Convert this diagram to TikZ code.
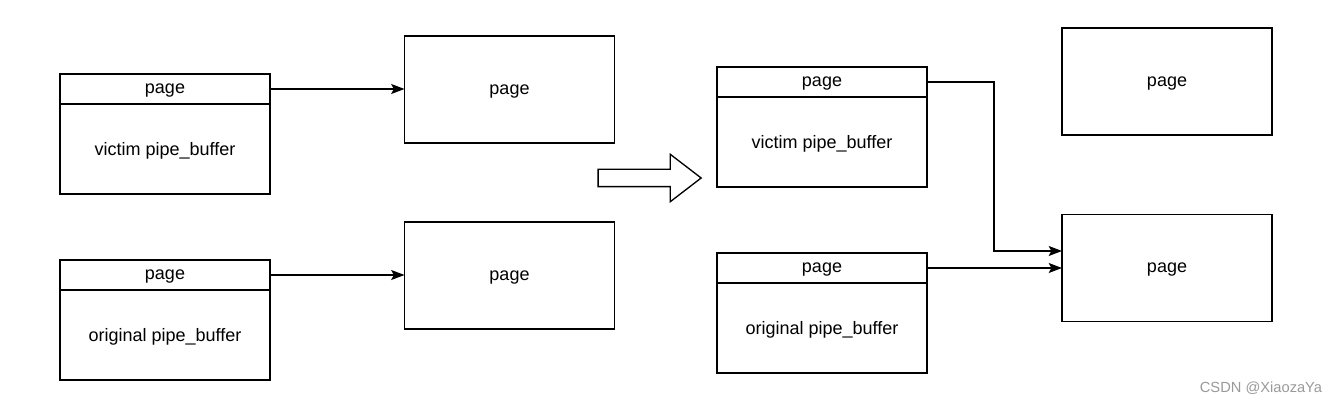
\documentclass[tikz,border=0pt]{standalone}
\usepackage{fontspec}
\setmainfont{Liberation Sans}
\usetikzlibrary{arrows.meta,positioning,shapes.arrows}
\tikzset{
headbox/.style={
  rectangle,
  line width=1pt,
  inner sep=0pt,
  outer sep=0pt,
  minimum width=157.5pt,
  minimum height=22.5pt,
  text depth=0pt,
  draw=black,
  font=\fontsize{13.5}{16}\selectfont,
  }
}
\tikzset{
bufbox/.style={
  headbox,
  minimum height=67.5pt,
  }
}
\tikzset{
pagebox/.style={
  headbox,
  minimum height=80.25pt,
  }
}
\tikzset{
myline/.style={
  line width=1pt,
  -{Stealth[length=10pt,width=7.5pt,inset=2pt]}
  }
}

\begin{document}
\begin{tikzpicture}[x=0.75pt,y=-0.75pt]
    \useasboundingbox (0,0) rectangle (1327,402);

    % before: victim buffer
    \node[headbox] (vic_head) at (165,89) {page};
    \node[bufbox, below=0pt of vic_head] (vic_buf) {victim pipe\_buffer};
    \node[pagebox] (vic_page) at (509.5,89.5) {page};

    % before: original buffer
    \node[headbox] (orig_head) at (165,275) {page};
    \node[bufbox, below=0pt of orig_head] (orig_buf) {original pipe\_buffer};
    \node[pagebox] (orig_page) at (509.5,275.5) {page};

    % hollow arrow
    \node[single arrow, draw=black, line width=1pt, inner xsep=0pt, inner ysep=6pt,
          minimum height=77.25pt, single arrow head extend=11.25pt,
          single arrow tip angle=75] (step_arrow) at (644,178) {};

    % after: victim buffer
    \node[headbox] (vic_head2) at (822,82) {page};
    \node[bufbox, below=0pt of vic_head2] (vic_buf2) {victim pipe\_buffer};
    \node[pagebox] (free_page) at (1167,81.5) {page};

    % after: original buffer
    \node[headbox] (orig_head2) at (822,268) {page};
    \node[bufbox, below=0pt of orig_head2] (orig_buf2) {original pipe\_buffer};
    \node[pagebox] (orig_page2) at (1167,268) {page};
    \coordinate (jog) at (994,251);
    \coordinate (in_page) at (1062,251);

    % edges
    \draw[myline] (vic_head) -- (vic_page.west |- vic_head);
    \draw[myline] (orig_head) -- (orig_page.west |- orig_head);
    \draw[myline] (vic_head2.east) -| (jog) -- (in_page);
    \draw[myline] (orig_head2.east) -- (orig_page2.west);

    % watermark
    \node[text=black!40, font=\fontsize{11}{13}\selectfont] (mark) at (1261,388) {CSDN @XiaozaYa};
\end{tikzpicture}
\end{document}
